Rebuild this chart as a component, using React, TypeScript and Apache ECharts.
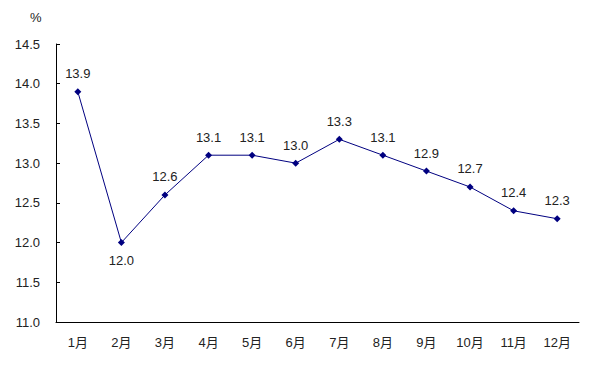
import React, { useEffect, useRef } from "react";
import * as echarts from "echarts";

const categories = ["1月", "2月", "3月", "4月", "5月", "6月", "7月", "8月", "9月", "10月", "11月", "12月"];
const values = [13.9, 12.0, 12.6, 13.1, 13.1, 13.0, 13.3, 13.1, 12.9, 12.7, 12.4, 12.3];
const belowIdx = [1];

export default function App() {
  const ref = useRef<HTMLDivElement>(null);
  useEffect(() => {
    const chart = echarts.init(ref.current!, null, { renderer: "svg" });
    const font = "Arial, 'Liberation Sans', 'Noto Sans CJK SC', sans-serif";
    chart.setOption({
      animation: false,
      backgroundColor: "#fff",
      grid: { left: 56, right: 25, top: 44, bottom: 49 },
      graphic: [
        { type: "text", left: 30, top: 11, style: { text: "%", fontSize: 13, fill: "#222", fontFamily: font } },
      ],
      xAxis: {
        type: "category",
        data: categories,
        boundaryGap: true,
        axisLine: { lineStyle: { color: "#000", width: 1 } },
        axisTick: { inside: true, length: 4, lineStyle: { color: "#000" } },
        axisLabel: { color: "#222", fontSize: 13, margin: 14, fontFamily: font },
        splitLine: { show: false },
      },
      yAxis: {
        type: "value",
        min: 11,
        max: 14.5,
        interval: 0.5,
        axisLine: { show: true, lineStyle: { color: "#000", width: 1 } },
        axisTick: { show: true, inside: true, length: 4, lineStyle: { color: "#000" } },
        axisLabel: { color: "#222", fontSize: 13, margin: 16, fontFamily: font, formatter: (v: number) => v.toFixed(1) },
        splitLine: { show: false },
      },
      series: [
        {
          type: "line",
          data: values.map((v, i) => ({
            value: v,
            label: { position: belowIdx.includes(i) ? "bottom" : "top" },
          })),
          symbol: "diamond",
          symbolSize: 7,
          itemStyle: { color: "#000080" },
          lineStyle: { color: "#000080", width: 1 },
          label: {
            show: true,
            distance: 8,
            color: "#222",
            fontSize: 13,
            fontFamily: font,
            formatter: (p: any) => Number(p.value).toFixed(1),
          },
        },
      ],
    });
    return () => chart.dispose();
  }, []);
  return <div ref={ref} style={{ width: 604, height: 371, position: "absolute", left: 0, top: 0 }} />;
}
